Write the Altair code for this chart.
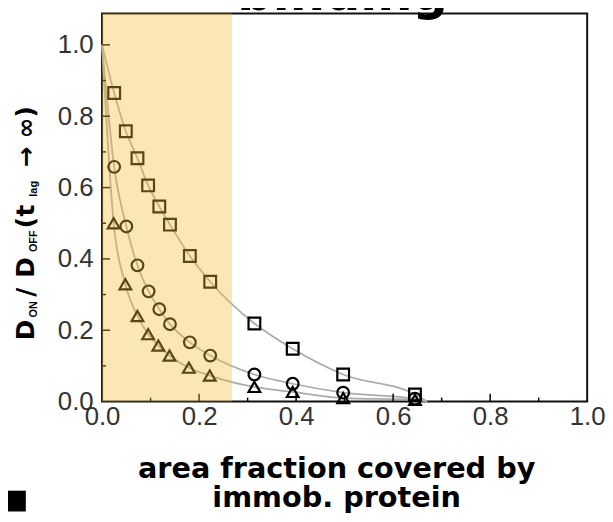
import altair as alt
import pandas as pd

# ---- data ----
x_sq = [0.025, 0.049, 0.073, 0.095, 0.118, 0.140, 0.181, 0.223, 0.314, 0.393, 0.497, 0.645]
y_sq = [0.865, 0.758, 0.682, 0.606, 0.547, 0.496, 0.408, 0.336, 0.219, 0.148, 0.076, 0.020]
x_ci = [0.025, 0.050, 0.073, 0.096, 0.118, 0.140, 0.181, 0.223, 0.314, 0.393, 0.497, 0.645]
y_ci = [0.658, 0.491, 0.382, 0.309, 0.259, 0.217, 0.166, 0.129, 0.076, 0.050, 0.025, 0.008]
x_tr = [0.024, 0.048, 0.073, 0.095, 0.116, 0.139, 0.179, 0.222, 0.314, 0.393, 0.497, 0.645]
y_tr = [0.500, 0.329, 0.240, 0.189, 0.157, 0.129, 0.095, 0.073, 0.041, 0.027, 0.010, 0.005]

# fitted curves (start at (0,1), end at ~0.67)
cx_sq = [0.0] + x_sq + [0.67]
cy_sq = [1.0] + y_sq + [0.0]
cx_ci = [0.0] + x_ci + [0.67]
cy_ci = [1.0] + y_ci + [0.0]
cx_tr = [0.0] + x_tr + [0.67]
cy_tr = [1.0] + y_tr + [0.0]

shade_from = [0.0]
shade_to = [0.268]

x_major = [0.2, 0.4, 0.6, 0.8]
x_minor = [0.1, 0.3, 0.5, 0.7, 0.9]
y_major = [0.2, 0.4, 0.6, 0.8, 1.0]
y_minor = [0.1, 0.3, 0.5, 0.7, 0.9]
tick_labels = [0.0, 0.2, 0.4, 0.6, 0.8, 1.0]

series_names = ["sq", "ci", "tr"]
shapes = ["square", "circle", "triangle-up"]

W, H = 490, 392
LABEL_FONT = "Liberation Sans"

pts = pd.DataFrame({
    "x": x_sq + x_ci + x_tr,
    "y": y_sq + y_ci + y_tr,
    "s": ["sq"] * len(x_sq) + ["ci"] * len(x_ci) + ["tr"] * len(x_tr),
})
crv = pd.DataFrame({
    "x": cx_sq + cx_ci + cx_tr,
    "y": cy_sq + cy_ci + cy_tr,
    "s": ["sq"] * len(cx_sq) + ["ci"] * len(cx_ci) + ["tr"] * len(cx_tr),
})

xscale = alt.Scale(domain=[0, 1], nice=False)
yscale = alt.Scale(domain=[0, 1.088], nice=False)

xaxis = alt.Axis(values=tick_labels, format=".1f", ticks=False, tickSize=0, domain=False,
                 grid=False, labelFont=LABEL_FONT, labelFontSize=26, labelColor="#333",
                 labelPadding=2, labelFlush=False, labelOverlap=False, title=None)
yaxis = alt.Axis(values=tick_labels, format=".1f", ticks=False, tickSize=0, domain=False,
                 grid=False, labelFont=LABEL_FONT, labelFontSize=26, labelColor="#333",
                 labelPadding=9, labelFlush=False, labelOverlap=False, title=None)

curves = alt.Chart(crv).mark_line(color="#ababab", strokeWidth=1.8, interpolate="monotone").encode(
    x=alt.X("x:Q", scale=xscale, axis=xaxis),
    y=alt.Y("y:Q", scale=yscale, axis=yaxis),
    detail="s:N",
)

points = alt.Chart(pts).mark_point(filled=False, strokeWidth=2.2, size=140, color="black", opacity=1).encode(
    x=alt.X("x:Q", scale=xscale),
    y=alt.Y("y:Q", scale=yscale),
    shape=alt.Shape("s:N", scale=alt.Scale(domain=series_names, range=shapes), legend=None),
)

def xticks(vals, ln):
    return alt.Chart(pd.DataFrame({"v": vals})).mark_rule(color="black", strokeWidth=1.5).encode(
        x=alt.X("v:Q", scale=xscale), y=alt.value(H), y2=alt.value(H - ln))

def yticks(vals, ln):
    return alt.Chart(pd.DataFrame({"v": vals})).mark_rule(color="black", strokeWidth=1.5).encode(
        y=alt.Y("v:Q", scale=yscale), x=alt.value(0), x2=alt.value(ln))

shade = alt.Chart(pd.DataFrame({"a": shade_from, "b": shade_to})).mark_rect(
    color="#F4BB37", opacity=0.37).encode(
    x=alt.X("a:Q", scale=xscale), x2="b:Q", y=alt.value(0), y2=alt.value(H))

one = pd.DataFrame({"k": [0]})

# y title pieces: (text, page-y start of the run, subscript?)
ypieces = [("D", 341, False), ("ON", 318, True), ("/", 297, False), ("D", 278, False),
           ("OFF", 252, True), ("(", 228, False), ("t", 216, False), ("lag", 196, True),
           ("→", 166, False), ("∞", 137, False), (")", 116, False)]
ytitle_layers = []
for txt, py, sub in ypieces:
    ytitle_layers.append(
        alt.Chart(one).mark_text(angle=270, align="left", baseline="alphabetic",
                                 font="Liberation Sans" if sub else "DejaVu Sans",
                                 fontWeight="bold",
                                 fontSize=11 if sub else 25, color="black").encode(
            x=alt.value(-66 if sub else -69), y=alt.value(py - 11), text=alt.value(txt))
    )

xtitle_lines = ["area fraction covered by", "immob. protein"]
xtitle_ys = [469, 498]
xtitle_layers = []
for line, ty in zip(xtitle_lines, xtitle_ys):
    xtitle_layers.append(
        alt.Chart(one).mark_text(align="center", baseline="alphabetic", font="DejaVu Sans",
                                 fontWeight="bold", fontSize=29, color="black").encode(
            x=alt.value(237), y=alt.value(ty), text=alt.value(line))
    )

top_title = alt.Chart(one).mark_text(align="center", baseline="alphabetic", font="DejaVu Sans",
                                     fontWeight="bold", fontSize=50, color="black").encode(
    x=alt.value(243), y=alt.value(-4), text=alt.value("binding"))

# black block at the bottom-left corner of the reference crop
corner = alt.Chart(one).mark_rect(color="black").encode(
    x=alt.value(-95), x2=alt.value(-77), y=alt.value(482), y2=alt.value(503))

chart = alt.layer(
    curves, points,
    xticks(x_major, 8), xticks(x_minor, 4), yticks(y_major, 8), yticks(y_minor, 4),
    shade, *ytitle_layers, *xtitle_layers, top_title, corner,
).properties(
    width=W, height=H,
    autosize=alt.AutoSizeParams(type="none"),
    padding={"left": 95, "top": 3, "right": 18, "bottom": 111},
    background="white",
).configure_view(stroke="#111", strokeWidth=2)

chart.save("out.html", embed_options={"renderer": "svg", "actions": False})
